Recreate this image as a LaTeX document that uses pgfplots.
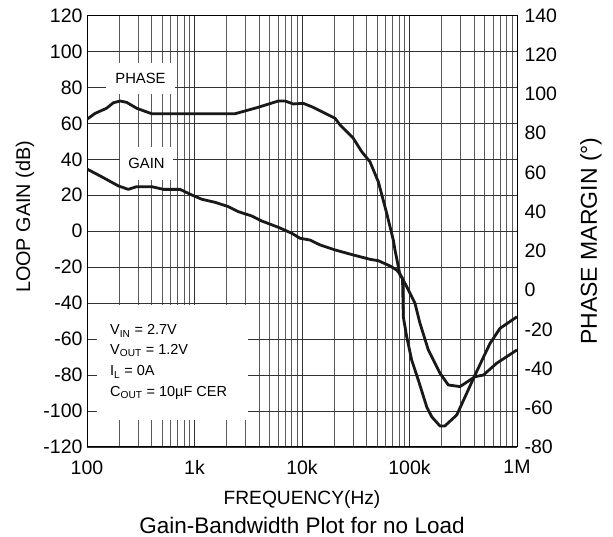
\documentclass[border=0pt]{standalone}
\usepackage{fontspec}
\setmainfont{Liberation Sans}
\usepackage{pgfplots}
\pgfplotsset{compat=1.18}
\begin{document}
\begin{tikzpicture}[x=1pt,y=1pt]
\path[use as bounding box] (-87,-90) rectangle (526,447);
\begin{axis}[
  at={(0,0)}, anchor=south west, scale only axis,
  width=430pt, height=431.5pt,
  xmode=log, xmin=100, xmax=1000000, ymin=-120, ymax=120,
  xtick={100,1000,10000,100000,1000000},
  xticklabels={100,1k,10k,100k,1M},
  minor xtick={200,300,400,500,600,700,800,900,2000,3000,4000,5000,6000,7000,8000,9000,20000,30000,40000,50000,60000,70000,80000,90000,200000,300000,400000,500000,600000,700000,800000,900000},
  ytick={-120,-100,-80,-60,-40,-20,0,20,40,60,80,100,120},
  yticklabels={-120,-100,-80,-60,-40,-20,0,20,40,60,80,100,120},
  xmajorgrids, xminorgrids, ymajorgrids,
  major tick length=0pt, minor tick length=0pt,
  major grid style={black!80, line width=0.9pt},
  minor grid style={black!65, line width=0.9pt},
  axis line style={black, line width=1pt},
  tick label style={font=\fontsize{19.5}{22}\selectfont},
  xticklabel style={yshift=-10pt},
  yticklabel style={xshift=-1pt},
  clip=true,
]
\addplot[black!90, line width=2.8pt, line join=round] coordinates {
(100,34.6) (137,30.3) (196,25.2) (242,23.3) (290,24.8) (400,24.8) (513,23.3) (733,23.3) (942,20.2) (1167,17.8) (1551,16.1) (2063,13.7) (2555,10.9) (3405,8.5) (4218,5.7) (6020,2.2) (8022,-1.1) (9580,-3.9) (11870,-4.9) (14700,-7.6) (20300,-10.4) (30000,-13.2) (42900,-15.6) (51300,-16.4) (65860,-19.3) (76030,-21.6) (81600,-23.8) (94190,-30.8) (101100,-34.5) (112500,-40.1) (125200,-51.2) (149600,-66) (192200,-79) (229600,-85.5) (295000,-86.4) (406800,-80.9) (485900,-80) (647500,-73.4) (1000000,-66)
};
\end{axis}
\begin{axis}[
  at={(0,0)}, anchor=south west, scale only axis,
  width=430pt, height=431.5pt,
  xmode=log, xmin=100, xmax=1000000, ymin=-80, ymax=140,
  axis x line=none, axis y line*=right,
  ytick={-80,-60,-40,-20,0,20,40,60,80,100,120,140},
  yticklabels={-80,-60,-40,-20,0,20,40,60,80,100,120,140},
  major tick length=0pt, minor tick length=0pt,
  axis line style={black, line width=1pt},
  tick label style={font=\fontsize{19.5}{22}\selectfont},
  yticklabel style={xshift=4pt},
]
\addplot[black!90, line width=2.8pt, line join=round] coordinates {
(100,87.1) (119,90.1) (152,92.7) (176,95.5) (203,96.4) (234,95.7) (290,92.7) (400,89.9) (2380,89.9) (3920,93.2) (6020,96.4) (6950,96.4) (8300,94.9) (10300,95.2) (12700,93.2) (20300,87.6) (22600,84.2) (30000,77.4) (35900,70.6) (42900,65.4) (51300,55.2) (61400,39.1) (70700,25.5) (73300,20.4) (81600,7.7) (86100,6.0) (87550,-13.6) (94190,-23.8) (104800,-35.7) (120800,-45.9) (144500,-59.5) (160900,-64.6) (192200,-69.3) (213000,-69.3) (274900,-63.7) (340500,-52.6) (406800,-43.3) (560900,-27.2) (694900,-19.5) (1000000,-13.6)
};
\end{axis}
% label boxes
\node[fill=white, minimum width=69pt, minimum height=31pt, inner sep=0pt, font=\fontsize{14.8}{16}\selectfont] at (53.5,368.5) {PHASE};
\node[fill=white, minimum width=53pt, minimum height=33pt, inner sep=0pt, font=\fontsize{14.8}{16}\selectfont] at (59.5,283.5) {GAIN};
\fill[white] (10,27) rectangle (161,142);
\begin{scope}[every node/.style={anchor=base west, inner sep=0pt, font=\fontsize{14.5}{16}\selectfont}]
\node at (23,112) {V\textsubscript{IN} = 2.7V};
\node at (23,92.5) {V\textsubscript{OUT} = 1.2V};
\node at (23,71) {I\textsubscript{L} = 0A};
\node at (23,50.5) {C\textsubscript{OUT} = 10µF CER};
\end{scope}
% axis labels
\node[rotate=90, font=\fontsize{19.8}{22}\selectfont] at (-62,230) {LOOP GAIN (dB)};
\node[rotate=90, font=\fontsize{23}{26}\selectfont] at (504,206) {PHASE MARGIN (°)};
\node[font=\fontsize{19.2}{22}\selectfont] at (215,-53) {FREQUENCY(Hz)};
\node[font=\fontsize{22.5}{25}\selectfont] at (215,-78) {Gain-Bandwidth Plot for no Load};
\end{tikzpicture}
\end{document}
